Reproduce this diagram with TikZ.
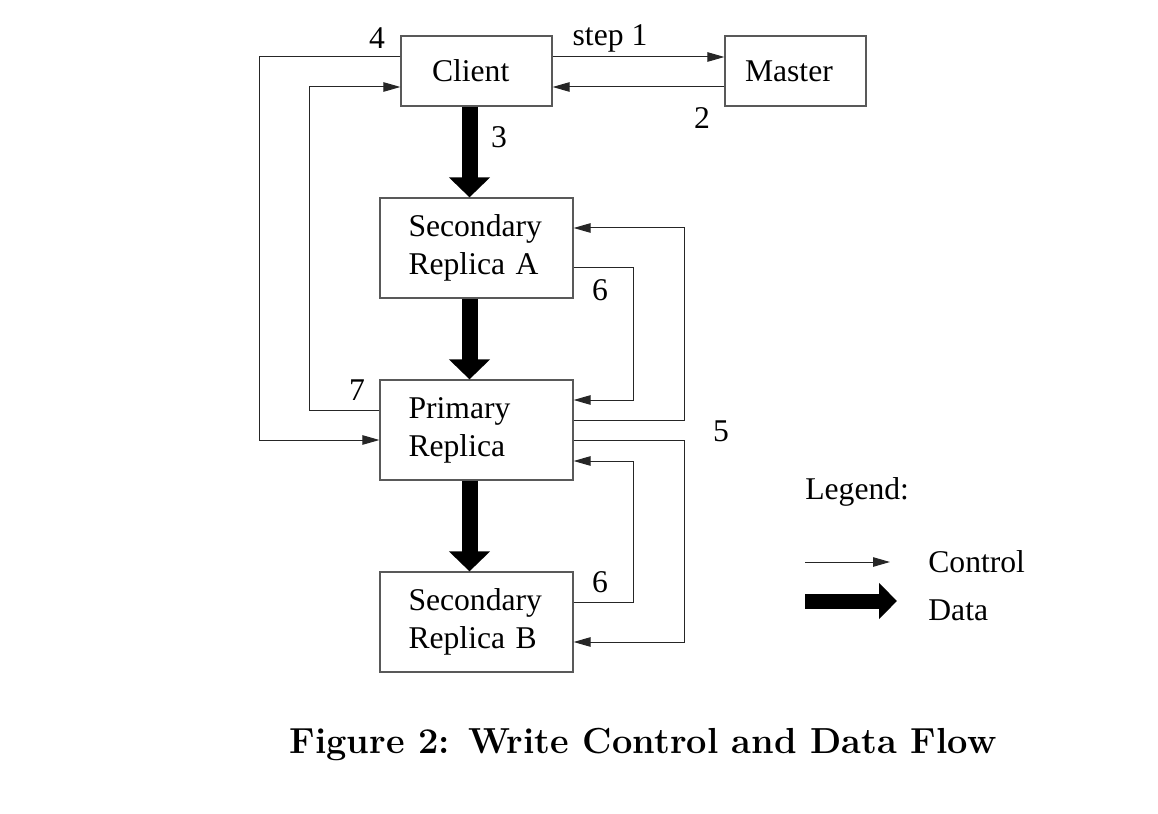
\documentclass[tikz,border=0pt]{standalone}
\usepackage{fontspec}
\newfontfamily\timesrm{Liberation Serif}
\usetikzlibrary{arrows.meta,positioning}
\tikzset{
  box/.style={draw=black!65,line width=0.25mm,minimum width=38.6mm,minimum height=20mm,align=left,text width=27.2mm,inner sep=0pt},
  ctrl/.style={draw=black!85,line width=0.2mm,-{Triangle[length=3.4mm,width=1.9mm]}},
  data/.style={line width=3.2mm,-{Triangle[length=4mm,width=8mm]}},
  lbl/.style={inner sep=0pt}
}
\begin{document}
\begin{tikzpicture}[x=0.2mm,y=-0.2mm,every node/.style={font=\timesrm\fontsize{18}{21.6}\selectfont}]
  \useasboundingbox (0,0) rectangle (1158,814);
  % boxes
  \node[box,minimum width=30.2mm,minimum height=14mm,text width=17.8mm] (client) at (476.5,71) {Client};
  \node[box,minimum width=28.2mm,minimum height=14mm,text width=20.2mm] (master) at (795.5,71) {Master};
  \node[box] (secA) at (476.5,248) {Secondary\\Replica A};
  \node[box] (prim) at (476.5,430) {Primary\\Replica};
  \node[box] (secB) at (476.5,622) {Secondary\\Replica B};
  % data flow
  \draw[data] ([xshift=-1.4mm]client.south) -- ([xshift=-1.4mm]secA.north);
  \draw[data] ([xshift=-1.4mm]secA.south) -- ([xshift=-1.4mm]prim.north);
  \draw[data] ([xshift=-1.4mm]prim.south) -- ([xshift=-1.4mm]secB.north);
  % control flow
  \draw[ctrl] ([yshift=2.8mm]client.east) -- ([yshift=2.8mm]master.west);
  \draw[ctrl] ([yshift=-3.2mm]master.west) -- ([yshift=-3.2mm]client.east);
  \draw[ctrl] ([yshift=2.8mm]client.west) -- ++(-28.2mm,0) |- ([yshift=-2mm]prim.west);
  \draw[ctrl] ([yshift=4mm]prim.west) -- ++(-14mm,0) |- ([yshift=-3.2mm]client.west);
  \draw[ctrl] ([yshift=2mm]prim.east) -- ++(22.2mm,0) |- ([yshift=4mm]secA.east);
  \draw[ctrl] ([yshift=-2mm]prim.east) -- ++(22.2mm,0) |- ([yshift=-4mm]secB.east);
  \draw[ctrl] ([yshift=-4mm]secA.east) -- ++(12mm,0) |- ([yshift=6mm]prim.east);
  \draw[ctrl] ([yshift=4mm]secB.east) -- ++(12mm,0) |- ([yshift=-6.2mm]prim.east);
  % step labels
  \node[lbl] (l1) at (610,38) {step 1};
  \node[lbl] (l2) at (702,118) {2};
  \node[lbl] (l3) at (499,137) {3};
  \node[lbl] (l4) at (377,38) {4};
  \node[lbl] (l5) at (721,431) {5};
  \node[lbl] (l6a) at (600,290) {6};
  \node[lbl] (l6b) at (600,582) {6};
  \node[lbl] (l7) at (357,390) {7};
  % legend
  \node[lbl,anchor=west] (legend) at (805,492) {Legend:};
  \node[lbl,anchor=west] (control) at (928,562) {Control};
  \node[lbl,anchor=west] (datatxt) at (928,610) {Data};
  \coordinate (ctrlS) at (805,562);
  \coordinate (ctrlE) at (890,562);
  \coordinate (dataS) at (805,601);
  \coordinate (dataE) at (897,601);
  \draw[ctrl] (ctrlS) -- (ctrlE);
  \draw[data,line width=3mm,-{Triangle[length=3.6mm,width=7mm]}] (dataS) -- (dataE);
  % caption
  \node[font=\fontsize{20.6}{24}\selectfont\bfseries] (caption) at (643,744) {Figure 2: Write Control and Data Flow};
\end{tikzpicture}
\end{document}
